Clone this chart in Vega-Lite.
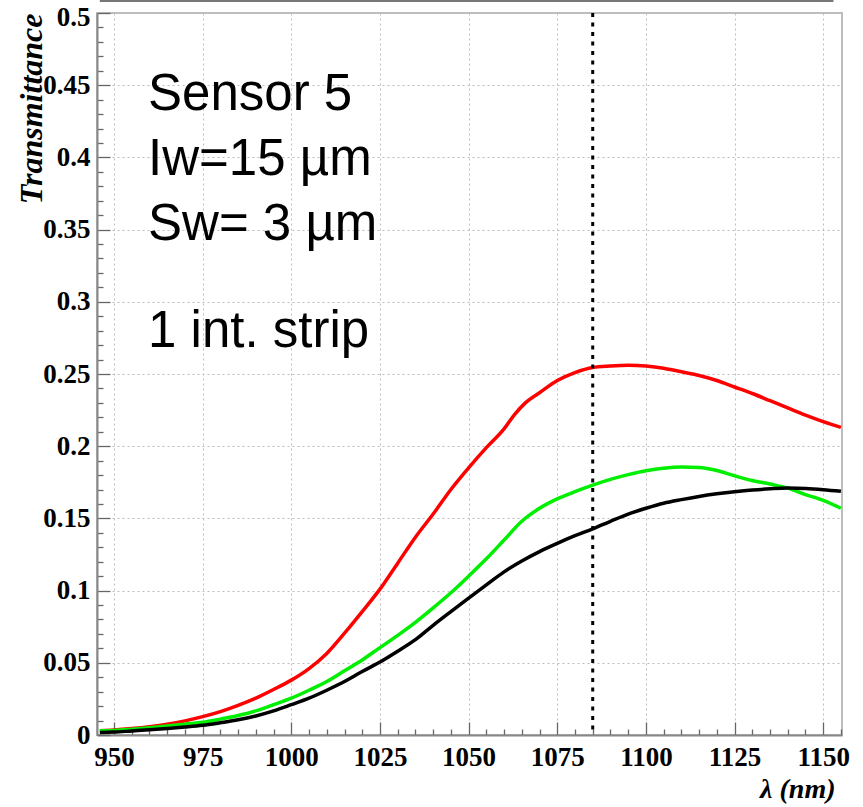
{
  "$schema": "https://vega.github.io/schema/vega-lite/v6.json",
  "width": 745,
  "height": 722,
  "autosize": {"type": "none"},
  "padding": {"left": 97, "top": 13, "right": 21, "bottom": 72},
  "background": "white",
  "config": {"view": {"stroke": "#bdbdbd", "strokeWidth": 2}},
  "resolve": {"axis": {"x": "independent", "y": "independent"}, "scale": {"x": "shared", "y": "shared"}},
  "datasets": {
    "curves": [
      {"s": "red", "wl": 946, "T": 0.003}, {"s": "red", "wl": 950, "T": 0.0035}, {"s": "red", "wl": 955, "T": 0.0045}, {"s": "red", "wl": 960, "T": 0.0058}, {"s": "red", "wl": 965, "T": 0.0075}, {"s": "red", "wl": 970, "T": 0.0098}, {"s": "red", "wl": 975, "T": 0.0127}, {"s": "red", "wl": 980, "T": 0.0162}, {"s": "red", "wl": 985, "T": 0.0205}, {"s": "red", "wl": 990, "T": 0.0255}, {"s": "red", "wl": 995, "T": 0.0315}, {"s": "red", "wl": 1000, "T": 0.038}, {"s": "red", "wl": 1005, "T": 0.046}, {"s": "red", "wl": 1010, "T": 0.0565}, {"s": "red", "wl": 1015, "T": 0.0705}, {"s": "red", "wl": 1020, "T": 0.0855}, {"s": "red", "wl": 1025, "T": 0.101}, {"s": "red", "wl": 1030, "T": 0.119}, {"s": "red", "wl": 1035, "T": 0.137}, {"s": "red", "wl": 1040, "T": 0.153}, {"s": "red", "wl": 1045, "T": 0.17}, {"s": "red", "wl": 1050, "T": 0.185}, {"s": "red", "wl": 1055, "T": 0.199}, {"s": "red", "wl": 1060, "T": 0.212}, {"s": "red", "wl": 1063, "T": 0.222}, {"s": "red", "wl": 1066, "T": 0.23}, {"s": "red", "wl": 1070, "T": 0.237}, {"s": "red", "wl": 1075, "T": 0.2455}, {"s": "red", "wl": 1080, "T": 0.251}, {"s": "red", "wl": 1085, "T": 0.2545}, {"s": "red", "wl": 1090, "T": 0.2555}, {"s": "red", "wl": 1095, "T": 0.256}, {"s": "red", "wl": 1100, "T": 0.2555}, {"s": "red", "wl": 1105, "T": 0.254}, {"s": "red", "wl": 1110, "T": 0.2515}, {"s": "red", "wl": 1115, "T": 0.249}, {"s": "red", "wl": 1120, "T": 0.2455}, {"s": "red", "wl": 1125, "T": 0.241}, {"s": "red", "wl": 1130, "T": 0.2365}, {"s": "red", "wl": 1135, "T": 0.2315}, {"s": "red", "wl": 1140, "T": 0.2265}, {"s": "red", "wl": 1145, "T": 0.2215}, {"s": "red", "wl": 1150, "T": 0.217}, {"s": "red", "wl": 1155, "T": 0.213},
      {"s": "green", "wl": 946, "T": 0.003}, {"s": "green", "wl": 950, "T": 0.0032}, {"s": "green", "wl": 955, "T": 0.004}, {"s": "green", "wl": 960, "T": 0.005}, {"s": "green", "wl": 965, "T": 0.0062}, {"s": "green", "wl": 970, "T": 0.0075}, {"s": "green", "wl": 975, "T": 0.0088}, {"s": "green", "wl": 980, "T": 0.011}, {"s": "green", "wl": 985, "T": 0.0135}, {"s": "green", "wl": 990, "T": 0.0167}, {"s": "green", "wl": 995, "T": 0.021}, {"s": "green", "wl": 1000, "T": 0.0255}, {"s": "green", "wl": 1005, "T": 0.031}, {"s": "green", "wl": 1010, "T": 0.037}, {"s": "green", "wl": 1015, "T": 0.0445}, {"s": "green", "wl": 1020, "T": 0.052}, {"s": "green", "wl": 1025, "T": 0.0605}, {"s": "green", "wl": 1030, "T": 0.069}, {"s": "green", "wl": 1035, "T": 0.078}, {"s": "green", "wl": 1040, "T": 0.088}, {"s": "green", "wl": 1045, "T": 0.0985}, {"s": "green", "wl": 1050, "T": 0.11}, {"s": "green", "wl": 1055, "T": 0.122}, {"s": "green", "wl": 1060, "T": 0.135}, {"s": "green", "wl": 1065, "T": 0.148}, {"s": "green", "wl": 1070, "T": 0.157}, {"s": "green", "wl": 1075, "T": 0.1635}, {"s": "green", "wl": 1080, "T": 0.1685}, {"s": "green", "wl": 1085, "T": 0.173}, {"s": "green", "wl": 1090, "T": 0.177}, {"s": "green", "wl": 1095, "T": 0.1803}, {"s": "green", "wl": 1100, "T": 0.183}, {"s": "green", "wl": 1105, "T": 0.1848}, {"s": "green", "wl": 1110, "T": 0.1856}, {"s": "green", "wl": 1115, "T": 0.1853}, {"s": "green", "wl": 1120, "T": 0.1832}, {"s": "green", "wl": 1125, "T": 0.1795}, {"s": "green", "wl": 1130, "T": 0.1762}, {"s": "green", "wl": 1135, "T": 0.1738}, {"s": "green", "wl": 1140, "T": 0.171}, {"s": "green", "wl": 1145, "T": 0.1665}, {"s": "green", "wl": 1150, "T": 0.1625}, {"s": "green", "wl": 1155, "T": 0.157},
      {"s": "black", "wl": 946, "T": 0.0018}, {"s": "black", "wl": 950, "T": 0.002}, {"s": "black", "wl": 955, "T": 0.0028}, {"s": "black", "wl": 960, "T": 0.0036}, {"s": "black", "wl": 965, "T": 0.0045}, {"s": "black", "wl": 970, "T": 0.0055}, {"s": "black", "wl": 975, "T": 0.0067}, {"s": "black", "wl": 980, "T": 0.0085}, {"s": "black", "wl": 985, "T": 0.0105}, {"s": "black", "wl": 990, "T": 0.0132}, {"s": "black", "wl": 995, "T": 0.0167}, {"s": "black", "wl": 1000, "T": 0.021}, {"s": "black", "wl": 1005, "T": 0.0255}, {"s": "black", "wl": 1010, "T": 0.031}, {"s": "black", "wl": 1015, "T": 0.037}, {"s": "black", "wl": 1020, "T": 0.044}, {"s": "black", "wl": 1025, "T": 0.0505}, {"s": "black", "wl": 1030, "T": 0.058}, {"s": "black", "wl": 1035, "T": 0.066}, {"s": "black", "wl": 1040, "T": 0.076}, {"s": "black", "wl": 1045, "T": 0.0855}, {"s": "black", "wl": 1050, "T": 0.0948}, {"s": "black", "wl": 1055, "T": 0.104}, {"s": "black", "wl": 1060, "T": 0.113}, {"s": "black", "wl": 1065, "T": 0.1205}, {"s": "black", "wl": 1070, "T": 0.127}, {"s": "black", "wl": 1075, "T": 0.1327}, {"s": "black", "wl": 1080, "T": 0.138}, {"s": "black", "wl": 1085, "T": 0.1428}, {"s": "black", "wl": 1090, "T": 0.148}, {"s": "black", "wl": 1095, "T": 0.153}, {"s": "black", "wl": 1100, "T": 0.157}, {"s": "black", "wl": 1105, "T": 0.1605}, {"s": "black", "wl": 1110, "T": 0.163}, {"s": "black", "wl": 1115, "T": 0.1652}, {"s": "black", "wl": 1120, "T": 0.167}, {"s": "black", "wl": 1125, "T": 0.1685}, {"s": "black", "wl": 1130, "T": 0.1697}, {"s": "black", "wl": 1135, "T": 0.1705}, {"s": "black", "wl": 1140, "T": 0.171}, {"s": "black", "wl": 1145, "T": 0.1707}, {"s": "black", "wl": 1150, "T": 0.1699}, {"s": "black", "wl": 1155, "T": 0.1688}
    ],
    "marker": [{"wl": 1085}],
    "notes": [
      {"label": "Sensor 5", "T": 0.4327},
      {"label": "Iw=15 µm", "T": 0.3877},
      {"label": "Sw= 3 µm", "T": 0.3427},
      {"label": "1 int. strip", "T": 0.2686}
    ]
  },
  "layer": [
    {
      "data": {"name": "curves"},
      "mark": {"type": "line", "strokeWidth": 3.5, "clip": true, "interpolate": "monotone"},
      "encoding": {
        "x": {
          "field": "wl", "type": "quantitative",
          "scale": {"domain": [945.2, 1155.3], "nice": false, "zero": false},
          "axis": {
            "values": [950, 955, 960, 965, 970, 975, 980, 985, 990, 995, 1000, 1005, 1010, 1015, 1020, 1025, 1030, 1035, 1040, 1045, 1050, 1055, 1060, 1065, 1070, 1075, 1080, 1085, 1090, 1095, 1100, 1105, 1110, 1115, 1120, 1125, 1130, 1135, 1140, 1145, 1150, 1155],
            "labelExpr": "datum.value % 25 === 0 ? datum.label : ''",
            "format": "d",
            "labelFont": "Liberation Serif", "labelFontWeight": "bold", "labelFontSize": 27, "labelColor": "black",
            "labelPadding": 22, "labelFlush": false, "labelOverlap": false,
            "tickSize": {"condition": {"test": "datum.value % 25 === 0", "value": -13}, "value": -6},
            "tickColor": "#666", "tickWidth": 1.3,
            "domainColor": "#888", "domainWidth": 2,
            "grid": true, "gridDash": [2, 3], "gridColor": "#bdbdbd", "gridWidth": 1,
            "gridOpacity": {"condition": {"test": "datum.value % 25 === 0", "value": 1}, "value": 0},
            "title": "λ (nm)", "titleFont": "Liberation Serif", "titleFontStyle": "italic", "titleFontWeight": "bold", "titleFontSize": 28, "titleColor": "black",
            "titleX": 738, "titleY": 62, "titleAlign": "right", "titleBaseline": "alphabetic"
          }
        },
        "y": {
          "field": "T", "type": "quantitative",
          "scale": {"domain": [0, 0.5], "nice": false},
          "axis": {
            "values": [0, 0.01, 0.02, 0.03, 0.04, 0.05, 0.06, 0.07, 0.08, 0.09, 0.1, 0.11, 0.12, 0.13, 0.14, 0.15, 0.16, 0.17, 0.18, 0.19, 0.2, 0.21, 0.22, 0.23, 0.24, 0.25, 0.26, 0.27, 0.28, 0.29, 0.3, 0.31, 0.32, 0.33, 0.34, 0.35, 0.36, 0.37, 0.38, 0.39, 0.4, 0.41, 0.42, 0.43, 0.44, 0.45, 0.46, 0.47, 0.48, 0.49, 0.5],
            "labelExpr": "round(datum.value * 100) % 5 === 0 ? format(datum.value, '~g') : ''",
            "labelFont": "Liberation Serif", "labelFontWeight": "bold", "labelFontSize": 27, "labelColor": "black",
            "labelPadding": 20, "labelFlush": false, "labelOverlap": false,
            "labelBaseline": {"condition": {"test": "datum.value >= 0.5", "value": "top"}, "value": "middle"},
            "labelOffset": {"condition": {"test": "datum.value >= 0.5", "value": -9}, "value": 0},
            "tickSize": {"condition": {"test": "round(datum.value * 100) % 5 === 0", "value": -13}, "value": -6},
            "tickColor": "#666", "tickWidth": 1.3,
            "domainColor": "#888", "domainWidth": 2,
            "grid": true, "gridDash": [2, 3], "gridColor": "#bdbdbd", "gridWidth": 1,
            "gridOpacity": {"condition": {"test": "round(datum.value * 100) % 5 === 0", "value": 1}, "value": 0},
            "title": "Transmittance", "titleFont": "Liberation Serif", "titleFontStyle": "italic", "titleFontWeight": "bold", "titleFontSize": 32, "titleColor": "black",
            "titleAngle": 270, "titleX": -56, "titleY": 0, "titleAlign": "right", "titleBaseline": "alphabetic"
          }
        },
        "color": {
          "field": "s", "type": "nominal",
          "scale": {"domain": ["red", "green", "black"], "range": ["#ff0000", "#00ee00", "#000000"]},
          "legend": null
        },
        "detail": {"field": "s"}
      }
    },
    {
      "data": {"name": "marker"},
      "mark": {"type": "rule", "color": "black", "strokeWidth": 3, "strokeDash": [4, 5.5]},
      "encoding": {
        "x": {"field": "wl", "type": "quantitative", "axis": null}
      }
    },
    {
      "data": {"name": "marker"},
      "mark": {"type": "rule", "color": "#777", "strokeWidth": 2, "yOffset": -12},
      "encoding": {
        "x": {"datum": 946, "type": "quantitative", "axis": null},
        "x2": {"datum": 1152.9},
        "y": {"datum": 0.5, "type": "quantitative", "axis": null}
      }
    },
    {
      "data": {"name": "notes"},
      "mark": {"type": "text", "font": "Liberation Sans", "fontSize": 51, "align": "left", "baseline": "alphabetic", "color": "black"},
      "encoding": {
        "x": {"datum": 959.6, "type": "quantitative", "axis": null},
        "y": {"field": "T", "type": "quantitative", "axis": null},
        "text": {"field": "label"}
      }
    }
  ]
}
